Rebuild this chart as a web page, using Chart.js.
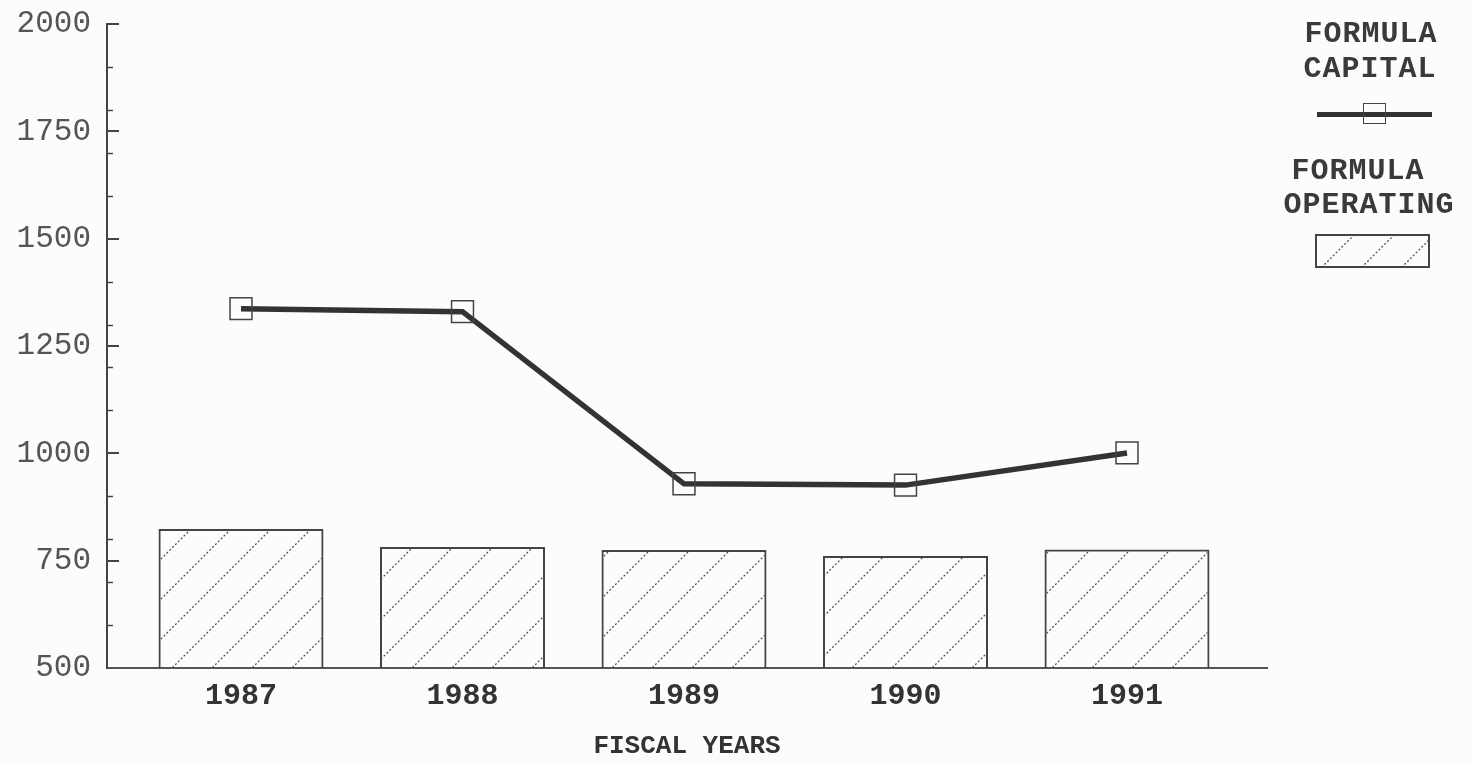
<!DOCTYPE html>
<html>
<head>
<meta charset="utf-8">
<title>Formula capital and formula operating, fiscal years 1987-1991</title>
<script src="https://cdn.jsdelivr.net/npm/chart.js@4.4.1/dist/chart.umd.min.js"></script>
<style>
  html, body { margin: 0; padding: 0; background: #fcfcfa; }
  #wrap { position: relative; width: 1472px; height: 763px; overflow: hidden; }
  #chart { position: absolute; left: 0; top: 0; }
  .leg {
    position: absolute;
    font-family: "Liberation Mono", monospace;
    font-weight: bold;
    font-size: 30px;
    line-height: 30px;
    letter-spacing: 1px;
    color: #3a3a3a;
    white-space: nowrap;
    transform: translateX(-50%);
  }
  .legLine { position: absolute; left: 1317px; top: 112px; width: 115px; height: 5px; background: #333; }
  .legMark { position: absolute; left: 1363px; top: 103px; width: 21px; height: 19px; border: 1.5px solid #444; }
  #legBox { position: absolute; left: 1315px; top: 234px; }
</style>
</head>
<body>
<div id="wrap">
  <canvas id="chart" width="1472" height="763"></canvas>
  <div class="leg" style="left:1371px; top:19px;">FORMULA</div>
  <div class="leg" style="left:1370px; top:54px;">CAPITAL</div>
  <div class="legLine"></div>
  <div class="legMark"></div>
  <div class="leg" style="left:1358px; top:156px;">FORMULA</div>
  <div class="leg" style="left:1369px; top:190px;">OPERATING</div>
  <canvas id="legBox" width="115" height="34"></canvas>
</div>
<script>
// data
const years = ['1987', '1988', '1989', '1990', '1991'];
const formulaCapital = [1337, 1330, 929, 926, 1001];
const formulaOperating = [824, 782, 775, 761, 776];

// y axis ticks (labels every 250, short marks every 100)
const yMajorTicks = [750, 1000, 1250, 1500, 1750, 2000];
const yMinorTicks = [600, 700, 800, 900, 1100, 1200, 1300, 1400, 1600, 1700, 1800, 1900];

// dotted diagonal hatch like the printed bars
function makeHatch(ctx) {
  const s = 40;
  const c = document.createElement('canvas');
  c.width = s; c.height = s;
  const g = c.getContext('2d');
  g.strokeStyle = '#555';
  g.lineWidth = 1.3;
  g.setLineDash([2, 2.04]);
  g.beginPath();
  g.moveTo(-2, s + 2); g.lineTo(s + 2, -2);
  g.stroke();
  return ctx.createPattern(c, 'repeat');
}

const ctx = document.getElementById('chart').getContext('2d');
const hatch = makeHatch(ctx);

// legend sample box
const lb = document.getElementById('legBox').getContext('2d');
lb.fillStyle = makeHatch(lb);
lb.fillRect(1, 1, 113, 32);
lb.strokeStyle = '#444';
lb.lineWidth = 2;
lb.strokeRect(1, 1, 113, 32);

// tick marks point into the plot on this chart
const innerTicks = {
  id: 'innerTicks',
  afterDatasetsDraw(chart) {
    const { ctx, chartArea, scales: { y } } = chart;
    ctx.save();
    ctx.strokeStyle = '#444';
    ctx.lineWidth = 1.5;
    ctx.beginPath();
    yMinorTicks.forEach(v => {
      const py = Math.round(y.getPixelForValue(v)) + 0.5;
      ctx.moveTo(chartArea.left, py);
      ctx.lineTo(chartArea.left + 6, py);
    });
    ctx.stroke();
    ctx.lineWidth = 2;
    ctx.beginPath();
    yMajorTicks.forEach(v => {
      const py = Math.round(y.getPixelForValue(v));
      ctx.moveTo(chartArea.left, py);
      ctx.lineTo(chartArea.left + 12, py);
    });
    ctx.stroke();
    ctx.restore();
  }
};

const labelFont = { family: '"Liberation Mono", monospace', size: 30, weight: 'bold' };

new Chart(ctx, {
  type: 'bar',
  data: {
    datasets: [{
      type: 'line',
      label: 'FORMULA CAPITAL',
      data: formulaCapital.map((v, i) => ({ x: i, y: v })),
      borderColor: '#333',
      borderWidth: 5.5,
      tension: 0,
      pointStyle: 'rect',
      pointRadius: 15.5,
      pointBorderWidth: 1.5,
      pointBorderColor: '#444',
      pointBackgroundColor: 'rgba(0,0,0,0)',
      order: 0
    }, {
      type: 'bar',
      label: 'FORMULA OPERATING',
      data: formulaOperating.map((v, i) => ({ x: i, y: v })),
      backgroundColor: hatch,
      borderColor: '#444',
      borderWidth: 2,
      borderSkipped: false,
      categoryPercentage: 1,
      barPercentage: 0.745,
      order: 1
    }]
  },
  options: {
    responsive: false,
    animation: false,
    layout: { padding: { top: 24, right: 205, left: 0, bottom: 0 } },
    plugins: {
      legend: { display: false },
      tooltip: { enabled: false }
    },
    scales: {
      x: {
        type: 'linear',
        min: -0.605,
        max: 4.632,
        offset: false,
        grid: { display: false, drawTicks: false, offset: false },
        border: { display: true, color: '#555', width: 2 },
        afterBuildTicks: s => { s.ticks = years.map((_, i) => ({ value: i })); },
        afterFit: s => { s.height = 95; },
        ticks: {
          callback: v => years[v],
          padding: 10,
          autoSkip: false,
          maxRotation: 0,
          color: '#333',
          font: labelFont
        },
        title: {
          display: true,
          text: 'FISCAL YEARS',
          color: '#333',
          padding: { top: 0, bottom: 1 },
          font: { family: '"Liberation Mono", monospace', size: 26, weight: 'bold' }
        }
      },
      y: {
        min: 500,
        max: 2000,
        grid: { display: false, drawTicks: false },
        border: { display: true, color: '#444', width: 2 },
        // fixed width, and let the top label sit above the plot edge
        afterFit: s => { s.width = 107; s.paddingTop = 0; s.paddingBottom = 0; },
        ticks: {
          stepSize: 250,
          padding: 16,
          color: '#555',
          callback: v => String(v),
          font: { family: '"Liberation Mono", monospace', size: 31 }
        }
      }
    }
  },
  plugins: [innerTicks]
});
</script>
</body>
</html>
